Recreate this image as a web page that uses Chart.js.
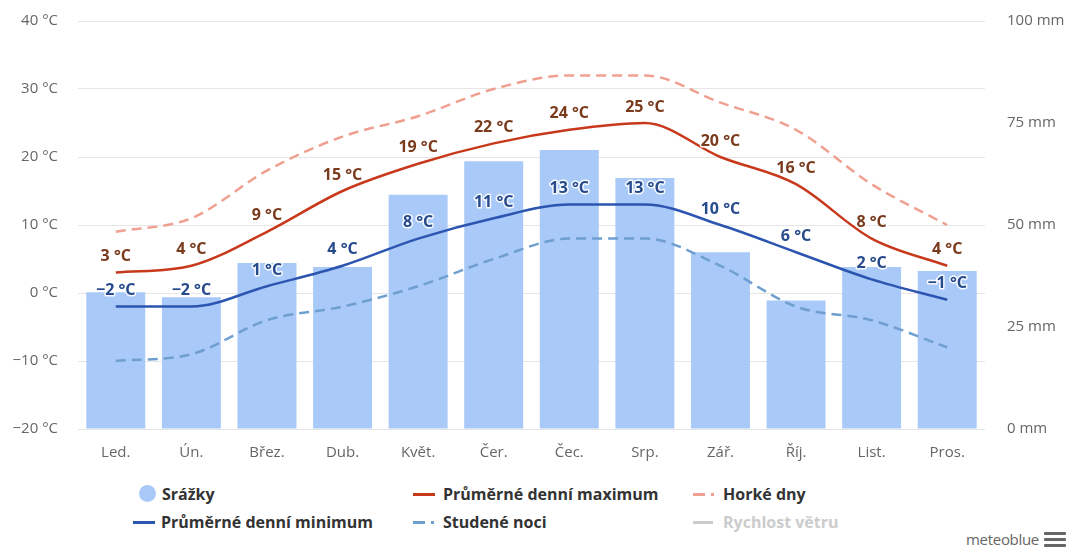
<!DOCTYPE html>
<html lang="cs">
<head>
<meta charset="utf-8">
<title>Klima</title>
<script src="https://cdn.jsdelivr.net/npm/chart.js@4.4.1/dist/chart.umd.min.js"></script>
<style>
  body { margin: 0; background: #fff; font-family: "Open Sans", sans-serif; }
  #wrap { position: relative; width: 1072px; height: 553px; overflow: hidden; }
  #box { position: absolute; left: 0; top: -10px; width: 1072px; height: 480px; }
  .item { position: absolute; font-size: 16px; font-weight: bold; color: #333; white-space: nowrap; line-height: 20px; }
  .item.off { color: #ccc; }
  .mk { position: absolute; }
  #brand { position: absolute; right: 33px; top: 529px; font-size: 15px; color: #666; letter-spacing: -0.3px; }
  .bar { position: absolute; left: 1044px; width: 22px; height: 3px; background: #666; border-radius: 1px; }
</style>
</head>
<body>
<div id="wrap">
  <div id="box"><canvas id="chart"></canvas></div>

  <!-- legend -->
  <div class="mk" style="left:139px;top:485px;width:17px;height:17px;border-radius:50%;background:#a9c9f8"></div>
  <div class="item" style="left:162px;top:484px">Srážky</div>

  <div class="mk" style="left:413px;top:493px;width:22px;height:2.5px;background:#c8391b"></div>
  <div class="item" style="left:443px;top:484px">Průměrné denní maximum</div>

  <div class="mk" style="left:693px;top:493px;width:12px;height:2.5px;background:#f0a090"></div>
  <div class="mk" style="left:711px;top:493px;width:3px;height:2.5px;background:#f0a090"></div>
  <div class="item" style="left:723px;top:484px">Horké dny</div>

  <div class="mk" style="left:133px;top:521px;width:22px;height:2.5px;background:#2b55b0"></div>
  <div class="item" style="left:161px;top:512px">Průměrné denní minimum</div>

  <div class="mk" style="left:413px;top:521px;width:12px;height:2.5px;background:#6f9fd0"></div>
  <div class="mk" style="left:431px;top:521px;width:3px;height:2.5px;background:#6f9fd0"></div>
  <div class="item" style="left:443px;top:512px">Studené noci</div>

  <div class="mk" style="left:693px;top:521px;width:20px;height:2.5px;background:#ccc"></div>
  <div class="item off" style="left:723px;top:512px">Rychlost větru</div>

  <div id="brand">meteoblue</div>
  <div class="bar" style="top:532px"></div>
  <div class="bar" style="top:538px"></div>
  <div class="bar" style="top:544px"></div>
</div>

<script>
const months = ['Led.', 'Ún.', 'Břez.', 'Dub.', 'Květ.', 'Čer.', 'Čec.', 'Srp.', 'Zář.', 'Říj.', 'List.', 'Pros.'];
const precip = [33.5, 32.3, 40.7, 39.7, 57.4, 65.6, 68.4, 61.5, 43.3, 31.5, 39.7, 38.7];
const tempMax = [3, 4, 9, 15, 19, 22, 24, 25, 20, 16, 8, 4];
const tempMin = [-2, -2, 1, 4, 8, 11, 13, 13, 10, 6, 2, -1];
const hotDays = [9, 11, 18, 23, 26, 30, 32, 32, 28, 24, 16, 10];
const coldNights = [-10, -9, -4, -2, 1, 5, 8, 8, 4, -2, -4, -8];
const tempTicks = [-20, -10, 0, 10, 20, 30, 40];
const rainTicks = [0, 25, 50, 75, 100];

function fmtNum(v) {
    return (v < 0 ? '\u2212' + Math.abs(v) : String(v));
}

// value labels above the temperature lines
const pointLabels = {
    id: 'pointLabels',
    afterDatasetsDraw(chart) {
        const c = chart.ctx;
        chart.data.datasets.forEach((ds, i) => {
            if (!ds.labelColor) return;
            const meta = chart.getDatasetMeta(i);
            c.save();
            c.font = 'bold 16px "Open Sans", sans-serif';
            c.textAlign = 'center';
            c.textBaseline = 'middle';
            c.lineJoin = 'round';
            meta.data.forEach((pt, j) => {
                const txt = fmtNum(ds.data[j]) + ' °C';
                const y = pt.y - 16;
                c.strokeStyle = 'rgba(255,255,255,0.9)';
                c.lineWidth = 3;
                c.strokeText(txt, pt.x, y);
                c.fillStyle = ds.labelColor;
                c.fillText(txt, pt.x, y);
            });
            c.restore();
        });
    }
};

const ctx = document.getElementById('chart').getContext('2d');
new Chart(ctx, {
    data: {
        labels: months,
        datasets: [
            {
                type: 'bar',
                label: 'Srážky',
                data: precip,
                yAxisID: 'y1',
                backgroundColor: '#a9c9f8',
                barPercentage: 0.78,
                categoryPercentage: 1,
                order: 10
            },
            {
                type: 'line',
                label: 'Horké dny',
                data: hotDays,
                yAxisID: 'y',
                borderColor: '#f0a090',
                borderWidth: 2.5,
                borderDash: [10, 6],
                pointRadius: 0,
                cubicInterpolationMode: 'monotone',
                order: 4
            },
            {
                type: 'line',
                label: 'Studené noci',
                data: coldNights,
                yAxisID: 'y',
                borderColor: '#6f9fd0',
                borderWidth: 2.5,
                borderDash: [10, 6],
                pointRadius: 0,
                cubicInterpolationMode: 'monotone',
                order: 3
            },
            {
                type: 'line',
                label: 'Průměrné denní minimum',
                data: tempMin,
                yAxisID: 'y',
                borderColor: '#2b55b0',
                borderWidth: 2.5,
                pointRadius: 0,
                cubicInterpolationMode: 'monotone',
                labelColor: '#264a8c',
                order: 2
            },
            {
                type: 'line',
                label: 'Průměrné denní maximum',
                data: tempMax,
                yAxisID: 'y',
                borderColor: '#c8391b',
                borderWidth: 2.5,
                pointRadius: 0,
                cubicInterpolationMode: 'monotone',
                labelColor: '#7a3a1c',
                order: 1
            }
        ]
    },
    options: {
        responsive: true,
        maintainAspectRatio: false,
        animation: false,
        layout: { padding: { top: 10, left: 0, right: 0, bottom: 0 } },
        plugins: {
            legend: { display: false },
            tooltip: { enabled: false }
        },
        scales: {
            x: {
                offset: true,
                grid: { display: false },
                border: { display: false },
                ticks: { color: '#666', font: { size: 15, family: '"Open Sans", sans-serif' }, padding: 7 },
                afterFit: s => { s.height = 41; }
            },
            y: {
                position: 'left',
                min: tempTicks[0],
                max: tempTicks[tempTicks.length - 1],
                afterBuildTicks: s => { s.ticks = tempTicks.map(v => ({ value: v })); },
                grid: { color: '#e6e6e6', drawTicks: false },
                border: { display: false },
                ticks: {
                    color: '#666',
                    padding: 20,
                    font: { size: 15, family: '"Open Sans", sans-serif' },
                    callback: v => fmtNum(v) + ' °C'
                },
                afterFit: s => { s.width = 78; }
            },
            y1: {
                position: 'right',
                min: rainTicks[0],
                max: rainTicks[rainTicks.length - 1],
                afterBuildTicks: s => { s.ticks = rainTicks.map(v => ({ value: v })); },
                grid: { drawOnChartArea: false, drawTicks: false },
                border: { display: false },
                ticks: {
                    color: '#666',
                    padding: 22,
                    font: { size: 15, family: '"Open Sans", sans-serif' },
                    callback: v => v + ' mm'
                },
                afterFit: s => { s.width = 87; }
            }
        }
    },
    plugins: [pointLabels]
});
</script>
</body>
</html>
